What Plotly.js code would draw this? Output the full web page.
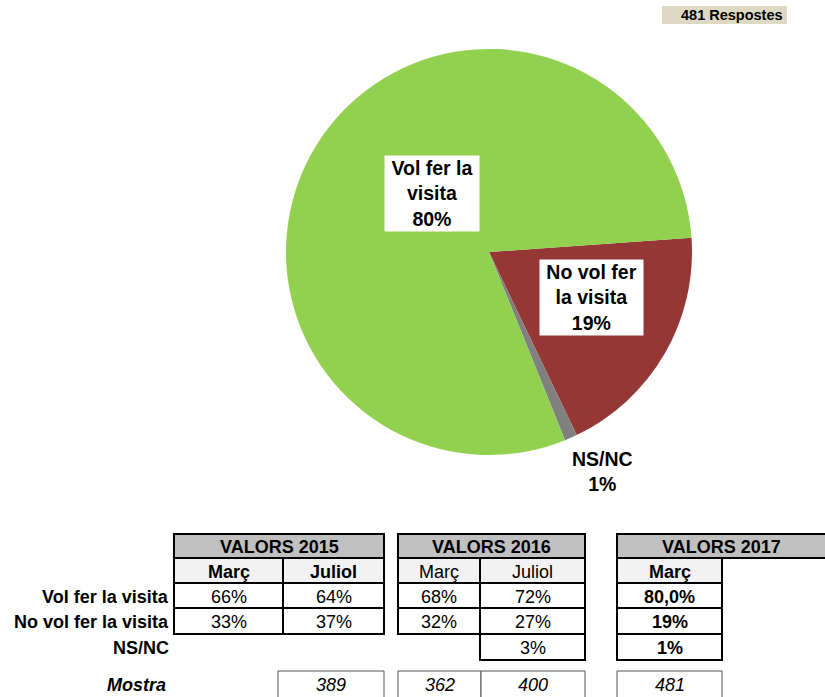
<!DOCTYPE html>
<html><head><meta charset="utf-8">
<script src="https://cdn.plot.ly/plotly-3.0.1.min.js"></script>
<style>html,body{margin:0;padding:0;background:#fff}#chart{width:825px;height:697px}</style>
</head><body><div id="chart"></div>
<script>
// ---- data ----
const sliceLabels = ['No vol fer la visita', 'NS/NC', 'Vol fer la visita'];
const sliceValues = [19, 1, 80];
const sliceColors = ['#953735', '#808080', '#92D050'];
const responseCount = 481;

const yearHeaders = ['VALORS 2015', 'VALORS 2016', 'VALORS 2017'];
const periodLabels = ['Març', 'Juliol', 'Març', 'Juliol', 'Març'];
const rowLabels = ['Vol fer la visita', 'No vol fer la visita', 'NS/NC'];
const volFerValues = ['66%', '64%', '68%', '72%', '80,0%'];
const noVolFerValues = ['33%', '37%', '32%', '27%', '19%'];
const nsncValues = ['', '', '', '3%', '1%'];
const mostraLabel = 'Mostra';
const mostraValues = ['', '389', '362', '400', '481'];

// ---- layout helpers ----
const W = 825, H = 697;
const X = p => p / W, Y = p => 1 - p / H;
const FONT = 'Liberation Sans, Arial, sans-serif';
const TFS = 18;

const colX = [[174, 283], [283, 384], [398, 480], [480, 585], [617, 722]];
const mostraX = [[174, 283], [278, 384], [398, 481], [481, 585], [617, 722]];
const colBlock = [0, 0, 1, 1, 2];
const blockX = [[174, 384], [398, 585], [617, 832]];
const headerY = [534, 558], subY = [558, 583];
const rowY = [[583, 608], [608, 634], [634, 660]];
const mostraY = [671, 702];
const subBold = [true, false, true];
const valBold = [false, false, true];

const shapes = [];
const annotations = [];

function rect(x0, x1, y0, y1, fill, lineColor, lineWidth) {
  shapes.push({type: 'rect', xref: 'paper', yref: 'paper',
    x0: X(x0), x1: X(x1), y0: Y(y1), y1: Y(y0),
    fillcolor: fill, line: {color: lineColor, width: lineWidth}, layer: 'above'});
}
function ann(text, xc, yc, size, extra) {
  annotations.push(Object.assign({x: X(xc), y: Y(yc), xref: 'paper', yref: 'paper',
    text: text, showarrow: false, xanchor: 'center', yanchor: 'middle',
    font: {family: FONT, size: size, color: '#000'}}, extra || {}));
}
const bold = (t, b) => b ? '<b>' + t + '</b>' : t;

// header blocks
yearHeaders.forEach((h, b) => {
  rect(blockX[b][0], blockX[b][1], headerY[0], headerY[1], '#C0C0C0', '#000', 2);
  ann('<b>' + h + '</b>', (blockX[b][0] + Math.min(blockX[b][1], 825)) / 2, (headerY[0] + headerY[1]) / 2 + 1, TFS);
});

const tableRows = [volFerValues, noVolFerValues, nsncValues];
periodLabels.forEach((p, c) => {
  const [x0, x1] = colX[c];
  const xc = (x0 + x1) / 2;
  const b = colBlock[c];
  rect(x0, x1, subY[0], subY[1], '#F2F2F2', '#000', 2);
  ann(bold(p, subBold[b]), xc, (subY[0] + subY[1]) / 2 + 1, TFS);
  tableRows.forEach((vals, r) => {
    if (vals[c] === '') return;
    rect(x0, x1, rowY[r][0], rowY[r][1], '#FFFFFF', '#000', 2);
    ann(bold(vals[c], valBold[b]), xc, (rowY[r][0] + rowY[r][1]) / 2 + 1, TFS);
  });
  if (mostraValues[c] !== '') {
    const [m0, m1] = mostraX[c];
    rect(m0, m1, mostraY[0], mostraY[1], '#FFFFFF', '#555', 1);
    ann('<i>' + mostraValues[c] + '</i>', (m0 + m1) / 2, 685, TFS);
  }
});

// row labels
rowLabels.forEach((l, r) => {
  ann('<b>' + l + '</b>', 171, (rowY[r][0] + rowY[r][1]) / 2 + 1, TFS, {xanchor: 'right'});
});
ann('<b><i>' + mostraLabel + '</i></b>', 168, 685, TFS, {xanchor: 'right'});

// responses tag
rect(662, 787, 6, 24, '#DDD9C3', 'rgba(0,0,0,0)', 0);
ann('<b>' + responseCount + ' Respostes</b>', 785, 15, 14.5, {xanchor: 'right'});

// pie labels
function wrap(s, n) {
  const words = s.split(' '); const lines = []; let cur = '';
  words.forEach(w => {
    if (cur && (cur + ' ' + w).length > n) { lines.push(cur); cur = w; }
    else cur = cur ? cur + ' ' + w : w;
  });
  if (cur) lines.push(cur);
  return lines.join('<br>');
}
const labelPos = [
  {x: 591.5, y: 297.5, w: 103, h: 75, bg: '#FFFFFF'},
  {x: 602, y: 471, w: 0, h: 0, bg: null},
  {x: 432, y: 193.5, w: 94, h: 75, bg: '#FFFFFF'}
];
sliceLabels.forEach((l, i) => {
  const p = labelPos[i];
  const extra = {};
  if (p.bg) Object.assign(extra, {bgcolor: p.bg, borderpad: 0, width: p.w, height: p.h});
  ann('<b>' + wrap(l, 10) + '<br>' + sliceValues[i] + '%</b>', p.x, p.y, 19.5, extra);
});

const data = [{
  type: 'pie',
  labels: sliceLabels,
  values: sliceValues,
  sort: false,
  direction: 'clockwise',
  rotation: 86,
  marker: {colors: sliceColors, line: {width: 0}},
  textinfo: 'none',
  hoverinfo: 'none',
  showlegend: false,
  domain: {x: [X(286), X(692)], y: [Y(455), Y(49)]}
}];

const layout = {
  width: W, height: H,
  margin: {l: 0, r: 0, t: 0, b: 0},
  paper_bgcolor: '#fff',
  showlegend: false,
  shapes: shapes,
  annotations: annotations,
  font: {family: FONT}
};
Plotly.newPlot('chart', data, layout, {displayModeBar: false, staticPlot: true});
</script></body></html>
